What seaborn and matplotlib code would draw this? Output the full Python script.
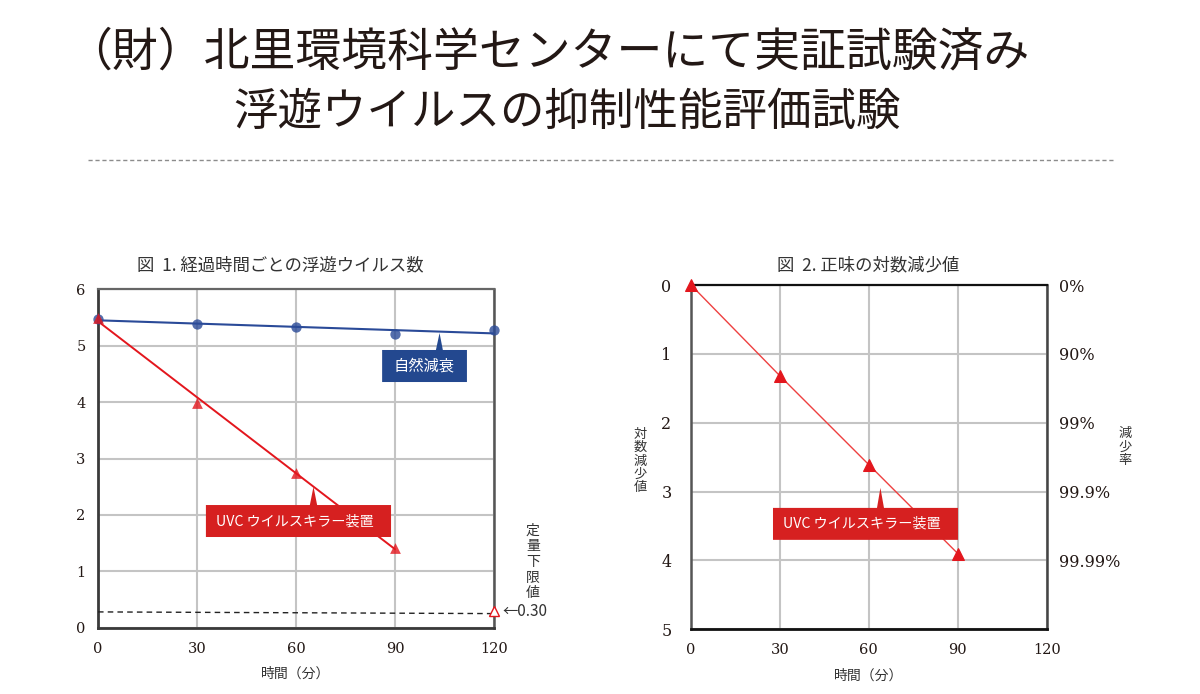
import matplotlib
matplotlib.use("Agg")
import matplotlib.pyplot as plt
from matplotlib.patches import Polygon
from matplotlib.lines import Line2D
import seaborn as sns
import pandas as pd

# ---------------- data ----------------
time_all = [0, 30, 60, 90, 120]
natural_decay = [5.47, 5.39, 5.33, 5.21, 5.27]
uvc_time = [0, 30, 60, 90]
uvc_count = [5.50, 3.98, 2.75, 1.42]
lod_time = [0, 120]
lod_value = [0.28, 0.25]
lod_marker = 0.29
log_reduction = [0.0, 1.32, 2.61, 3.90]

x_ticks = [0, 30, 60, 90, 120]
left_y_ticks = [0, 1, 2, 3, 4, 5, 6]
right_y_ticks = [0, 1, 2, 3, 4, 5]
pct_ticks = [0, 1, 2, 3, 4]
pct_labels = ["0%", "90%", "99%", "99.9%", "99.99%"]

title_1 = "（財）北里環境科学センターにて実証試験済み"
title_2 = "浮遊ウイルスの抑制性能評価試験"
fig1_title = "図  1. 経過時間ごとの浮遊ウイルス数"
fig2_title = "図  2. 正味の対数減少値"
x_label = "時間（分）"
label_natural = "自然減衰"
label_uvc = "UVC ウイルスキラー装置"
label_lod = "定量下限値"
label_lod_val = "←0.30"
label_logred = "対数減少値"
label_rate = "減少率"

# ---------------- style ----------------
sns.set_style("white")
plt.rcParams["font.family"] = ["Noto Sans CJK JP", "DejaVu Sans"]

INK = "#231815"
BLUE = "#2a4a98"
BLUE_BOX = "#23488f"
RED = "#e3161d"
RED_BOX = "#d62020"
GRID = "#c4c4c4"
SERIF = "DejaVu Serif"

fig = plt.figure(figsize=(12, 6.94), dpi=100)

def fx(px):
    return px / 1200

def fy(py):
    return 1 - py / 694

# headline
fig.text(fx(548), fy(52), title_1, ha="center", va="center", fontsize=33, color=INK)
fig.text(fx(567), fy(112), title_2, ha="center", va="center", fontsize=32, color=INK)
fig.add_artist(Line2D([fx(88), fx(1113)], [fy(160), fy(160)], color="#8c8c8c",
                      lw=1.0, ls=(0, (3, 2)), transform=fig.transFigure))

# ---------------- left chart ----------------
axL = fig.add_axes([98 / 1200, 1 - 627.7 / 694, 396 / 1200, 338.4 / 694])
df_nat = pd.DataFrame({"time": time_all, "value": natural_decay})
df_uvc = pd.DataFrame({"time": uvc_time, "value": uvc_count})

sns.regplot(data=df_nat, x="time", y="value", ci=None, ax=axL, marker="o",
            scatter_kws={"s": 55, "color": BLUE, "clip_on": False, "zorder": 5, "linewidths": 0},
            line_kws={"color": BLUE, "lw": 1.5, "zorder": 4})
sns.regplot(data=df_uvc, x="time", y="value", ci=None, ax=axL, marker="^",
            scatter_kws={"s": 60, "color": RED, "clip_on": False, "zorder": 6, "linewidths": 0},
            line_kws={"color": RED, "lw": 1.4, "zorder": 4})
sns.lineplot(x=lod_time, y=lod_value, ax=axL, color="#222222", lw=1.0,
             linestyle=(0, (4, 3)), zorder=3)
axL.plot([lod_time[-1]], [lod_marker], marker="^", ms=7, mfc="white", mec=RED,
         mew=1.0, clip_on=False, zorder=7)

axL.set_xlim(0, 120)
axL.set_ylim(0, 6)
axL.set_xticks(x_ticks)
axL.set_yticks(left_y_ticks)
axL.grid(True, color=GRID, lw=1.5)
axL.set_axisbelow(True)
axL.tick_params(length=0, labelsize=10.5, labelcolor=INK)
axL.tick_params(axis="x", pad=10)
axL.tick_params(axis="y", pad=9)
for lab in axL.get_xticklabels() + axL.get_yticklabels():
    lab.set_fontfamily(SERIF)
axL.set_xlabel(x_label, fontsize=10, color="#333333", labelpad=8)
axL.set_ylabel("")
for side, col, lw in [("left", "#3a3a3a", 2.0), ("bottom", "#3a3a3a", 2.0),
                      ("top", "#666666", 1.6), ("right", "#555555", 1.8)]:
    axL.spines[side].set_visible(True)
    axL.spines[side].set_color(col)
    axL.spines[side].set_linewidth(lw)

# callout: natural decay
axL.add_patch(Polygon([(86.1, 4.924), (102.4, 4.924), (103.5, 5.225), (104.5, 4.924),
                       (111.8, 4.924), (111.8, 4.356), (86.1, 4.356)],
                      closed=True, fc=BLUE_BOX, ec="none", zorder=8, clip_on=False))
axL.text(98.9, 4.64, label_natural, ha="center", va="center", color="white",
         fontsize=11, zorder=9)
# callout: UVC
axL.add_patch(Polygon([(32.7, 2.175), (64.2, 2.175), (65.3, 2.50), (66.4, 2.175),
                       (88.8, 2.175), (88.8, 1.608), (32.7, 1.608)],
                      closed=True, fc=RED_BOX, ec="none", zorder=8, clip_on=False))
axL.text(35.7, 1.89, label_uvc, ha="left", va="center", color="white",
         fontsize=10.2, zorder=9)

axL.text(122.6, 0.28, label_lod_val, ha="left", va="center", fontsize=11,
         color="#333333", clip_on=False)
axL.text(131.8, 1.165, "\n".join(label_lod), ha="center", va="center", fontsize=10,
         color="#333333", linespacing=1.15, clip_on=False)

fig.text(fx(280), fy(265), fig1_title, ha="center", va="center", fontsize=12.5, color="#333333")

# ---------------- right chart ----------------
axR = fig.add_axes([691 / 1200, 1 - 629.3 / 694, 355.7 / 1200, 344.3 / 694])
df_red = pd.DataFrame({"time": uvc_time, "value": log_reduction})
sns.lineplot(data=df_red, x="time", y="value", ax=axR, color="#ee4040", lw=1.0,
             marker="^", markersize=9, markerfacecolor=RED, markeredgecolor=RED,
             zorder=5, clip_on=False)
axR.set_xlim(0, 120)
axR.set_ylim(5, 0)
axR.set_xticks(x_ticks)
axR.set_yticks(right_y_ticks)
axR.grid(True, color=GRID, lw=1.5)
axR.set_axisbelow(True)
axR.tick_params(length=0, labelsize=11.5, labelcolor=INK)
axR.tick_params(axis="x", pad=10, labelsize=10.5)
axR.tick_params(axis="y", pad=14)
for lab in axR.get_xticklabels() + axR.get_yticklabels():
    lab.set_fontfamily(SERIF)
axR.set_xlabel(x_label, fontsize=10, color="#333333", labelpad=8)
axR.set_ylabel("")
for side, col, lw in [("left", "#555555", 1.8), ("bottom", "#111111", 2.0),
                      ("top", "#111111", 1.6), ("right", "#444444", 1.8)]:
    axR.spines[side].set_visible(True)
    axR.spines[side].set_color(col)
    axR.spines[side].set_linewidth(lw)

axR2 = axR.twinx()
axR2.set_ylim(5, 0)
axR2.set_yticks(pct_ticks)
axR2.set_yticklabels(pct_labels)
axR2.tick_params(length=0, labelsize=11.5, labelcolor=INK, pad=9)
for lab in axR2.get_yticklabels():
    lab.set_fontfamily(SERIF)
for s in axR2.spines.values():
    s.set_visible(False)

axR.add_patch(Polygon([(27.66, 3.237), (62.75, 3.237), (63.9, 2.946), (65.1, 3.237),
                       (90.07, 3.237), (90.07, 3.701), (27.66, 3.701)],
                      closed=True, fc=RED_BOX, ec="none", zorder=8, clip_on=False))
axR.text(31.0, 3.47, label_uvc, ha="left", va="center", color="white",
         fontsize=10.2, zorder=9)

fig.text(fx(868), fy(265), fig2_title, ha="center", va="center", fontsize=12.5, color="#333333")
fig.text(fx(640), fy(461), "\n".join(label_logred), ha="center", va="center",
         fontsize=9.5, color="#333333", linespacing=1.05)
fig.text(fx(1125), fy(447), "\n".join(label_rate), ha="center", va="center",
         fontsize=9.5, color="#333333", linespacing=1.05)

fig.savefig("out.png", dpi=100, facecolor="white")
